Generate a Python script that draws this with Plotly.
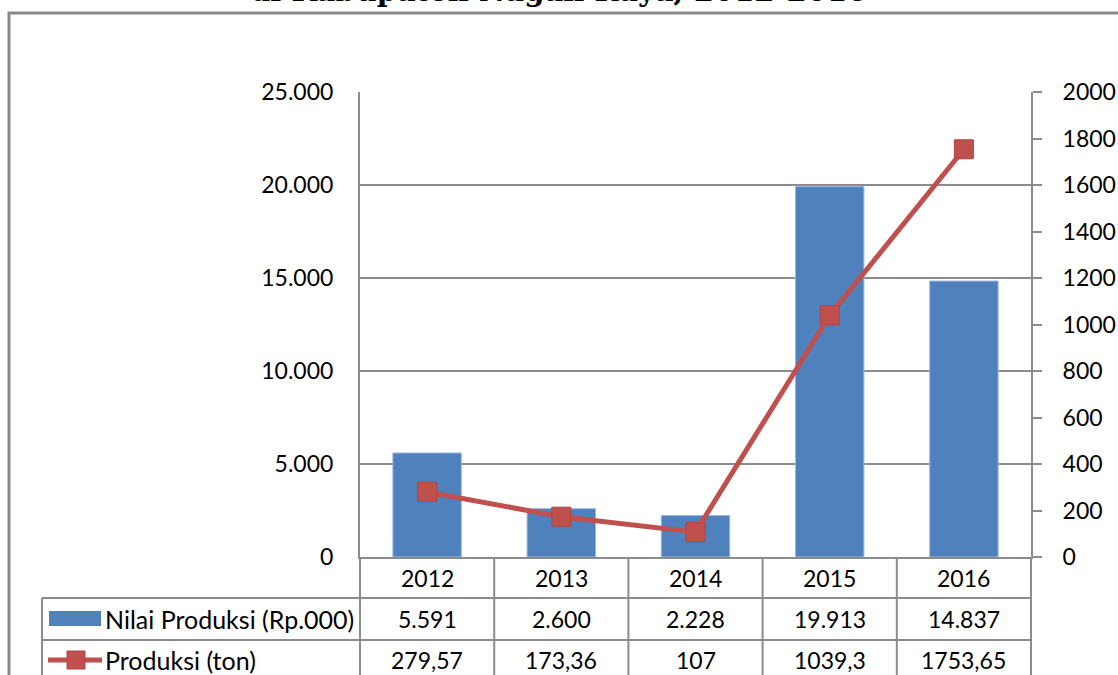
import plotly.graph_objects as go

years = ["2012", "2013", "2014", "2015", "2016"]
nilai_produksi = [5591, 2600, 2228, 19913, 14837]
produksi_ton = [279.57, 173.36, 107, 1039.3, 1753.65]

series_names = ["Nilai Produksi (Rp.000)", "Produksi (ton)"]
title_text = "di Kabupaten Nagan Raya, 2012-2016"

W, H = 1118, 675
L, R, T, B = 360, 1031, 92, 557
PW, PH = R - L, B - T

BLUE = "#4F81BD"
RED = "#C0504D"
GRID = "#8C8C8C"
FONT = "Lato"
FS = 23


def px(x):
    return (x - L) / PW


def py(y):
    return (B - y) / PH


def fmt_nilai(v):
    return f"{v:,}".replace(",", ".")


def fmt_ton(v):
    return f"{v:g}".replace(".", ",")


fig = go.Figure()
fig.add_trace(go.Bar(
    x=years, y=nilai_produksi, name=series_names[0],
    marker=dict(color=BLUE, line=dict(color="#9DB8DC", width=1)),
    width=0.51, yaxis="y",
))
fig.add_trace(go.Scatter(
    x=years, y=produksi_ton, name=series_names[1], yaxis="y2",
    mode="lines+markers",
    line=dict(color=RED, width=5),
    marker=dict(symbol="square", size=19, color=RED, line=dict(color="#B24542", width=1)),
))

shapes = []
# outer border
shapes.append(dict(type="rect", xref="paper", yref="paper",
                   x0=px(9), x1=px(1130), y0=py(690), y1=py(13),
                   line=dict(color="#8A8A8A", width=3), layer="below"))
# table lines
line_style = dict(color=GRID, width=2)
col_edges = [L + i * PW / 5 for i in range(6)]
for xe in col_edges:
    shapes.append(dict(type="line", xref="paper", yref="paper",
                       x0=px(xe), x1=px(xe), y0=py(B), y1=py(690), line=line_style))
shapes.append(dict(type="line", xref="paper", yref="paper",
                   x0=px(42), x1=px(42), y0=py(598), y1=py(690), line=line_style))
for yl in (598, 640):
    shapes.append(dict(type="line", xref="paper", yref="paper",
                       x0=px(42), x1=px(R), y0=py(yl), y1=py(yl), line=line_style))
# legend keys
shapes.append(dict(type="rect", xref="paper", yref="paper",
                   x0=px(49), x1=px(101), y0=py(626), y1=py(611),
                   fillcolor=BLUE, line=dict(width=0)))
shapes.append(dict(type="line", xref="paper", yref="paper",
                   x0=px(48), x1=px(102), y0=py(660), y1=py(660),
                   line=dict(color=RED, width=5)))
shapes.append(dict(type="rect", xref="paper", yref="paper",
                   x0=px(67), x1=px(85), y0=py(669), y1=py(651),
                   fillcolor=RED, line=dict(color="#B24542", width=1)))

annotations = []
row_y = [578, 619, 660]
cell_font = dict(family=FONT, size=FS, color="black")
for i, yr in enumerate(years):
    rows = [yr, fmt_nilai(nilai_produksi[i]), fmt_ton(produksi_ton[i])]
    for txt, yy in zip(rows, row_y):
        annotations.append(dict(x=i, xref="x", y=py(yy), yref="paper",
                                xanchor="center", yanchor="middle",
                                text=txt, showarrow=False, font=cell_font))
for name, yy in zip(series_names, row_y[1:]):
    annotations.append(dict(x=px(103), xref="paper", xanchor="left", y=py(yy), yref="paper",
                            yanchor="middle", text=name, showarrow=False,
                            font=dict(family=FONT, size=25, color="black")))
annotations.append(dict(x=px(558), xref="paper", xanchor="center", y=py(10), yref="paper",
                        yanchor="bottom",
                        text="<b>" + title_text + "</b>", showarrow=False,
                        font=dict(family="DejaVu Serif", size=29, color="black")))

fig.update_layout(
    width=W, height=H,
    margin=dict(l=L, r=W - R, t=T, b=H - B, pad=0, autoexpand=False),
    paper_bgcolor="white", plot_bgcolor="white",
    showlegend=False,
    separators=",.",
    font=dict(family=FONT, size=FS, color="black"),
    xaxis=dict(type="category", showticklabels=False, showgrid=False, ticks="",
               showline=True, linecolor=GRID, linewidth=2, range=[-0.5, 4.5], zeroline=False),
    yaxis=dict(range=[0, 25000], dtick=5000, tickformat=",d", showgrid=True,
               gridcolor=GRID, gridwidth=2, showline=True, linecolor=GRID, linewidth=2,
               ticks="", ticklabelstandoff=20, zeroline=False, automargin=False,
               tickfont=dict(family=FONT, size=FS)),
    yaxis2=dict(range=[0, 2000], dtick=200, tickformat="d", overlaying="y", side="right",
                showgrid=False, showline=True, linecolor=GRID, linewidth=2,
                ticks="outside", ticklen=9, tickwidth=2, tickcolor=GRID,
                ticklabelstandoff=16, zeroline=False, automargin=False,
                tickfont=dict(family=FONT, size=FS)),
    shapes=shapes,
    annotations=annotations,
)

fig.write_html(
    "out.html",
    config={"displayModeBar": False},
    post_script="document.body.style.margin='0';document.body.style.overflow='hidden';",
)
